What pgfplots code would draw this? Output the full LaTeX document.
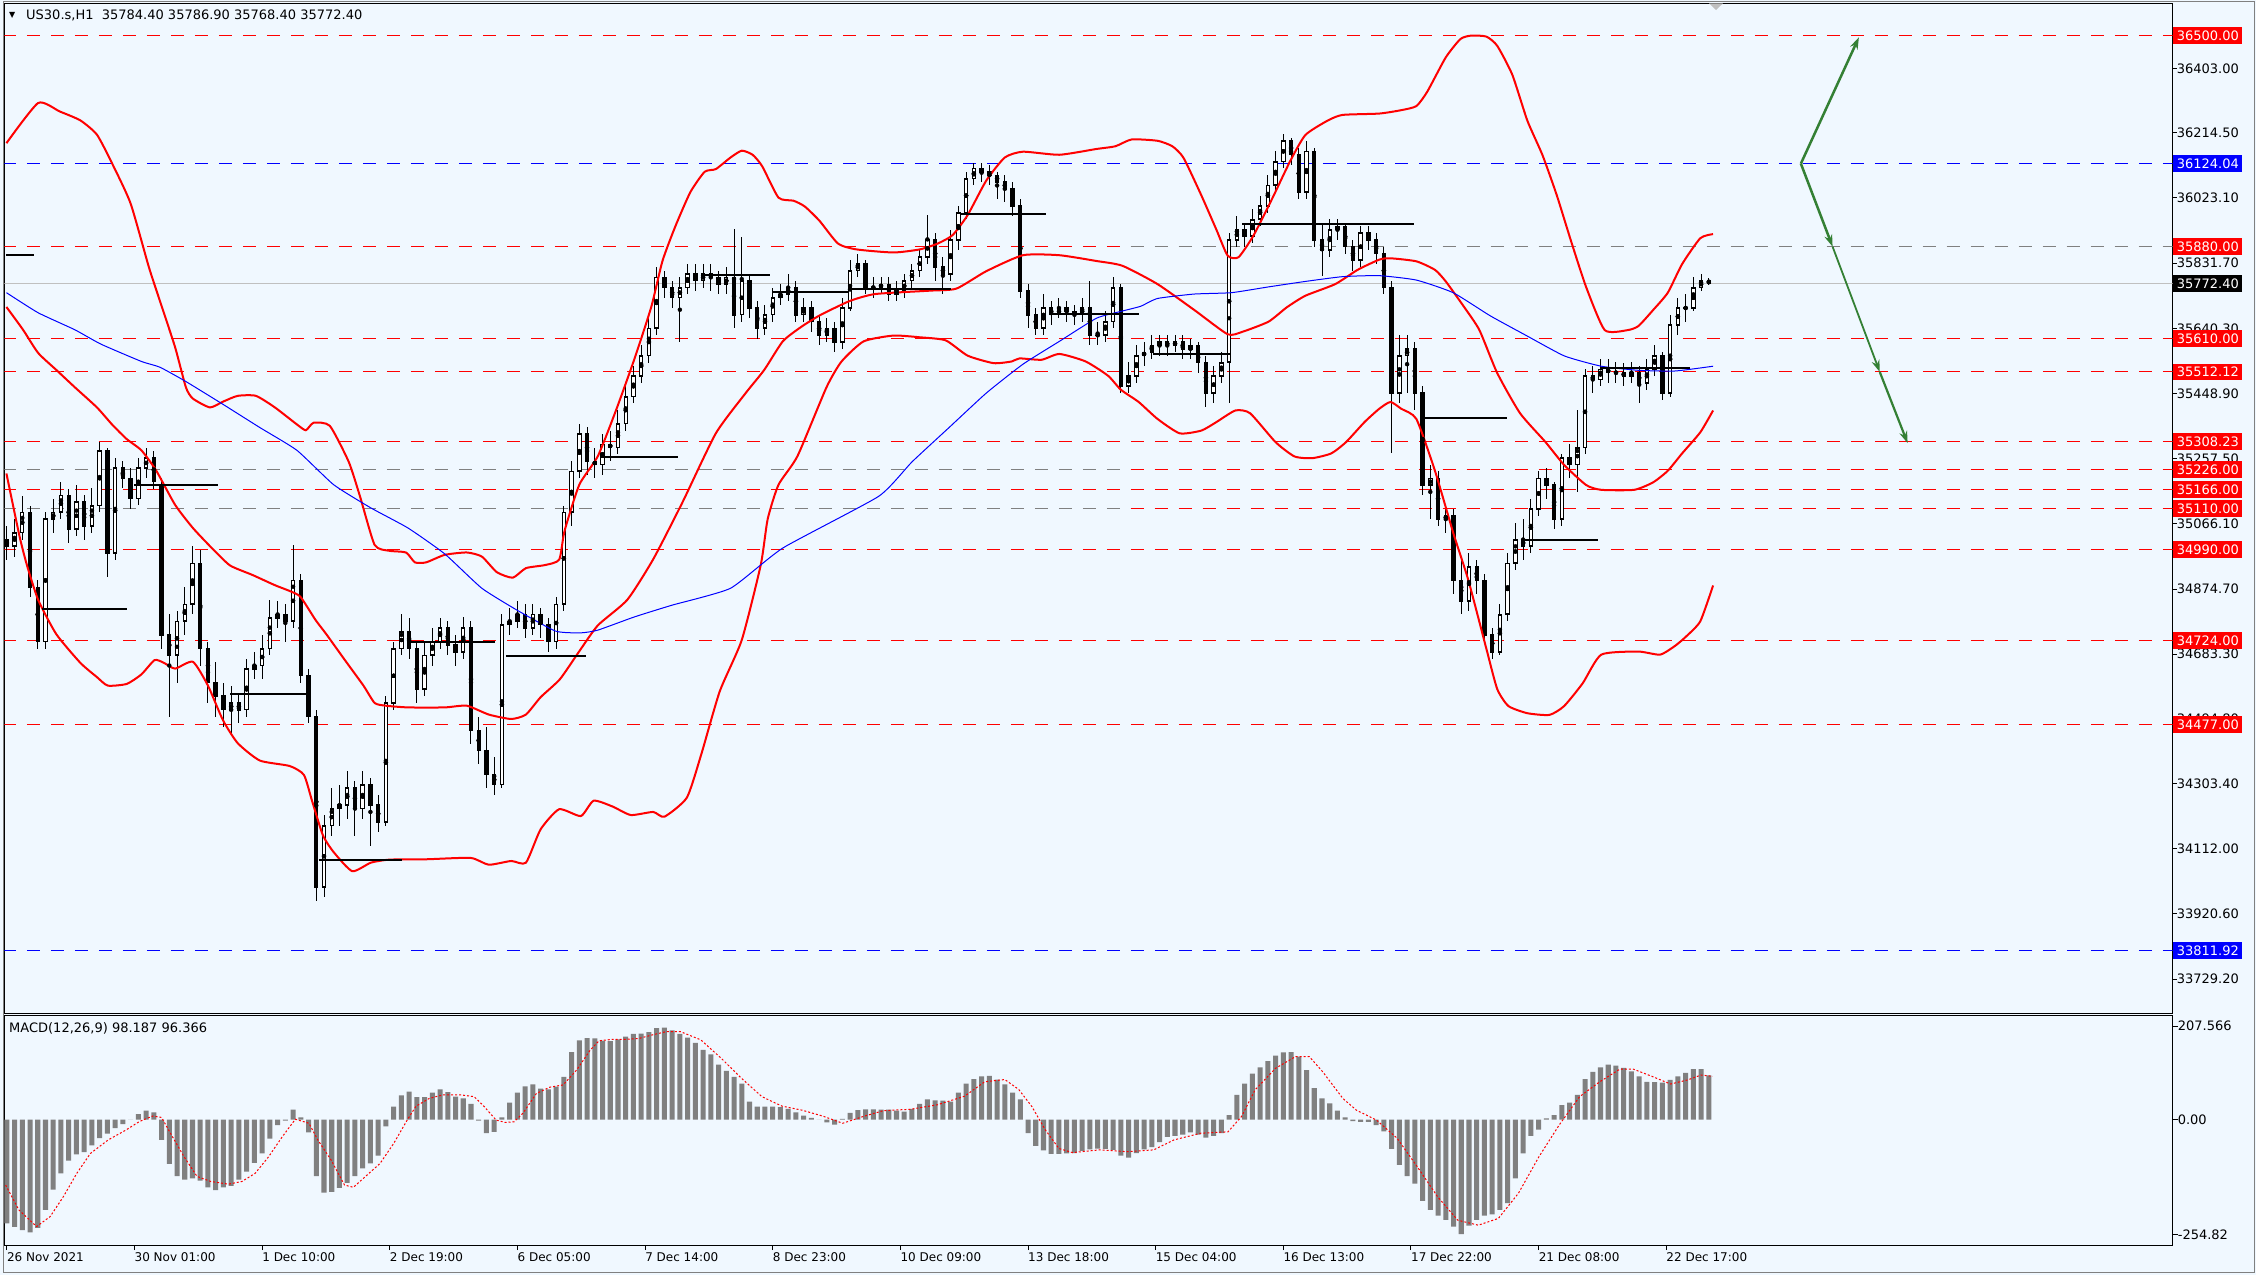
\documentclass[border=0pt]{standalone}
\usepackage{pgfplots}
\pgfplotsset{compat=1.18}
\usepackage{pgfplotstable}
\usepackage{fontspec}
\setmainfont{DejaVu Sans}
\usetikzlibrary{arrows.meta}
\definecolor{bgc}{RGB}{240,248,255}
\definecolor{arrowgreen}{RGB}{52,128,52}
\definecolor{histgray}{RGB}{128,128,128}
\definecolor{lvlgray}{RGB}{128,128,128}
\definecolor{pricegray}{RGB}{192,192,192}
\newcommand\fs{\fontsize{13bp}{15bp}\selectfont}
\newcommand\fsd{\fontsize{12bp}{14bp}\selectfont}
\setlength{\fboxsep}{3.5bp}
\newcommand\lbl[2]{\colorbox{#1}{\textcolor{white}{#2}}}

\pgfplotstableread{
n o h l c
0 35020 35060 34960 35000
2 35000 35080 34970 35040
4 35040 35147 35020 35100
6 35100 35120 34850 34880
8 34880 34900 34700 34720
10 34720 35100 34700 35080
12 35080 35140 35040 35100
14 35100 35190 35080 35150
16 35150 35170 35010 35050
18 35050 35180 35030 35130
20 35130 35150 35020 35060
22 35060 35170 35040 35120
24 35120 35307 35100 35280
26 35280 35290 34911 34980
28 34980 35260 34960 35230
30 35230 35250 35170 35200
32 35200 35230 35110 35140
34 35140 35260 35120 35230
36 35230 35290 35200 35260
38 35260 35280 35170 35190
40 35180 35200 34700 34740
42 34740 34800 34500 34680
44 34680 34810 34600 34780
46 34780 34880 34740 34830
48 34830 35000 34800 34950
50 34950 34990 34650 34700
52 34700 34720 34540 34600
54 34600 34660 34500 34560
56 34560 34600 34470 34520
58 34520 34590 34450 34540
60 34540 34570 34480 34520
62 34520 34670 34500 34640
64 34640 34690 34610 34650
66 34650 34740 34610 34700
68 34700 34843 34680 34790
70 34790 34840 34760 34800
72 34800 34830 34720 34780
74 34780 35003 34760 34900
76 34900 34920 34600 34620
78 34620 34640 34480 34500
80 34500 34520 33958 34000
82 34000 34210 33970 34180
84 34180 34290 34150 34230
86 34230 34300 34180 34240
88 34240 34340 34200 34290
90 34290 34310 34150 34230
92 34230 34340 34200 34300
94 34300 34320 34120 34240
96 34240 34270 34160 34190
98 34190 34560 34180 34540
100 34540 34720 34520 34700
102 34700 34800 34680 34750
104 34750 34790 34670 34700
106 34700 34720 34540 34580
108 34580 34720 34560 34680
110 34680 34760 34650 34720
112 34720 34790 34700 34760
114 34760 34780 34680 34710
116 34710 34740 34650 34690
118 34690 34793 34670 34760
120 34760 34780 34420 34460
122 34460 34500 34360 34400
124 34400 34470 34290 34330
126 34330 34380 34270 34300
128 34300 34800 34290 34770
130 34770 34820 34740 34780
132 34780 34840 34760 34800
134 34800 34830 34730 34760
136 34760 34830 34740 34800
138 34800 34820 34730 34770
140 34770 34790 34690 34720
142 34720 34850 34700 34830
144 34830 35120 34810 35100
146 35100 35250 35060 35220
148 35220 35360 35200 35330
150 35330 35350 35210 35250
152 35250 35290 35200 35240
154 35240 35330 35210 35300
156 35300 35340 35250 35290
158 35290 35400 35270 35360
160 35360 35470 35340 35440
162 35440 35530 35420 35500
164 35500 35590 35480 35560
166 35560 35680 35540 35640
168 35640 35821 35620 35790
170 35790 35810 35730 35760
172 35760 35780 35700 35730
174 35730 35790 35600 35760
176 35760 35830 35740 35800
178 35800 35830 35750 35780
180 35780 35830 35760 35800
182 35800 35830 35750 35790
184 35790 35810 35740 35770
186 35770 35820 35740 35790
188 35790 35931 35640 35680
190 35680 35910 35660 35780
192 35780 35800 35670 35700
194 35700 35720 35610 35640
196 35640 35710 35620 35680
198 35680 35760 35660 35730
200 35730 35770 35710 35740
202 35740 35800 35720 35760
204 35760 35780 35660 35680
206 35680 35730 35660 35700
208 35700 35720 35630 35660
210 35660 35680 35590 35620
212 35620 35670 35600 35640
214 35640 35660 35570 35600
216 35600 35730 35580 35700
218 35700 35840 35690 35810
220 35810 35860 35790 35830
222 35830 35840 35740 35760
224 35760 35790 35730 35760
226 35760 35790 35740 35770
228 35770 35790 35720 35740
230 35740 35780 35720 35750
232 35750 35800 35730 35780
234 35780 35830 35760 35810
236 35810 35870 35790 35850
238 35850 35973 35830 35900
240 35900 35920 35780 35820
242 35820 35850 35740 35800
244 35800 35930 35780 35900
246 35900 36000 35870 35980
248 35980 36100 35960 36080
250 36080 36125 36060 36110
252 36110 36125 36070 36100
254 36100 36120 36060 36090
256 36090 36100 36020 36070
258 36070 36090 36010 36050
260 36050 36070 35970 36000
262 36000 36020 35730 35750
264 35750 35770 35640 35680
266 35680 35700 35620 35640
268 35640 35740 35620 35700
270 35700 35720 35650 35680
272 35680 35730 35670 35700
274 35700 35720 35660 35690
276 35690 35710 35650 35680
278 35680 35730 35660 35700
280 35700 35780 35590 35620
282 35620 35660 35590 35620
284 35620 35690 35600 35660
286 35660 35790 35640 35760
288 35760 35770 35450 35470
290 35470 35540 35450 35500
292 35500 35590 35480 35560
294 35560 35600 35530 35570
296 35570 35620 35550 35590
298 35590 35620 35560 35600
300 35600 35620 35560 35590
302 35590 35620 35570 35600
304 35600 35620 35550 35580
306 35580 35610 35550 35590
308 35590 35600 35510 35540
310 35540 35560 35410 35450
312 35450 35530 35420 35500
314 35500 35570 35480 35540
316 35540 35920 35420 35900
318 35900 35970 35880 35930
320 35930 35950 35880 35910
322 35910 35990 35890 35960
324 35960 36030 35940 36000
326 36000 36090 35980 36060
328 36060 36160 36040 36130
330 36130 36210 36110 36190
332 36190 36200 36120 36150
334 36150 36170 36020 36040
336 36040 36190 36020 36160
338 36160 36170 35880 35900
340 35900 35950 35795 35870
342 35870 35960 35850 35930
344 35930 35960 35900 35940
346 35940 35950 35860 35880
348 35880 35900 35810 35840
350 35840 35940 35820 35920
352 35920 35940 35870 35900
354 35900 35920 35830 35860
356 35860 35880 35740 35760
358 35760 35780 35273 35450
360 35450 35620 35420 35560
362 35560 35620 35450 35580
364 35580 35600 35400 35450
366 35450 35470 35150 35180
368 35180 35240 35080 35200
370 35200 35220 35060 35080
372 35080 35120 35040 35090
374 35090 35110 34860 34900
376 34900 34960 34800 34840
378 34840 34980 34810 34940
380 34940 34960 34860 34900
382 34900 34920 34720 34740
384 34740 34760 34670 34690
386 34690 34830 34680 34800
388 34800 34980 34780 34950
390 34950 35070 34930 35020
392 35020 35080 34960 35000
394 35000 35140 34980 35110
396 35110 35222 35090 35200
398 35200 35230 35140 35180
400 35180 35190 35050 35080
402 35080 35270 35060 35260
404 35260 35300 35200 35240
406 35240 35400 35160 35290
408 35290 35520 35270 35500
410 35500 35530 35450 35490
412 35490 35550 35470 35520
414 35520 35550 35480 35510
416 35510 35540 35480 35510
418 35510 35540 35470 35500
420 35500 35540 35480 35510
422 35510 35530 35420 35480
424 35480 35550 35460 35520
426 35520 35590 35500 35560
428 35560 35570 35430 35450
430 35450 35680 35440 35650
432 35650 35730 35620 35700
434 35700 35740 35660 35700
436 35700 35790 35690 35760
438 35760 35800 35750 35780
440 35780 35787 35768 35772
}\candles

\pgfplotstableread{
n v
0 -230
2 -238
4 -245
6 -250
8 -240
10 -200
12 -155
14 -119
16 -91
18 -77
20 -72
22 -57
24 -41
26 -31
28 -19
30 -10
32 0
34 12
36 20
38 16
40 -45
42 -98
44 -125
46 -133
48 -130
50 -135
52 -150
54 -156
56 -150
58 -147
60 -133
62 -115
64 -96
66 -75
68 -42
70 -12
72 -2
74 22
76 5
78 -28
80 -125
82 -162
84 -160
86 -151
88 -140
90 -125
92 -108
94 -97
96 -80
98 -15
100 29
102 54
104 62
106 50
108 50
110 60
112 67
114 61
116 51
118 47
120 35
122 -2
124 -30
126 -27
128 5
130 38
132 60
134 74
136 78
138 69
140 67
142 73
144 95
146 150
148 176
150 181
152 180
154 175
156 174
158 178
160 184
162 190
164 191
166 194
168 203
170 204
172 198
174 190
176 182
178 170
180 155
182 145
184 122
186 108
188 95
190 80
192 40
194 29
196 29
198 29
200 28
202 24
204 16
206 9
208 4
210 0
212 -6
214 -11
216 2
218 15
220 21
222 23
224 23
226 22
228 22
230 20
232 18
234 24
236 35
238 45
240 43
242 42
244 40
246 60
248 80
250 90
252 96
254 97
256 89
258 78
260 60
262 45
264 -30
266 -58
268 -68
270 -76
272 -76
274 -75
276 -74
278 -69
280 -66
282 -64
284 -65
286 -67
288 -80
290 -84
292 -74
294 -66
296 -61
298 -50
300 -38
302 -36
304 -33
306 -28
308 -33
310 -40
312 -36
314 -30
316 10
318 55
320 80
322 102
324 116
326 130
328 142
330 149
332 150
334 140
336 110
338 70
340 47
342 36
344 20
346 5
348 -3
350 -5
352 -5
354 -12
356 -26
358 -65
360 -100
362 -125
364 -142
366 -180
368 -200
370 -213
372 -222
374 -237
376 -254
378 -235
380 -222
382 -213
384 -210
386 -200
388 -185
390 -130
392 -75
394 -36
396 -22
398 3
400 10
402 32
404 38
406 55
408 90
410 106
412 116
414 122
416 120
418 115
420 107
422 96
424 84
426 83
428 82
430 88
432 96
434 104
436 112
438 112
440 98
}\macdhist

\begin{document}
\begin{tikzpicture}[x=1bp,y=1bp]
\fill[bgc] (0,0) rectangle (2256,-1275);
\useasboundingbox (0,0) rectangle (2256,-1275);
\draw[lvlgray, line width=1bp] (3.3,-1.5) rectangle (2254,-1272);

\begin{axis}[
  at={(4.3bp,-3.3bp)}, anchor=north west,
  scale only axis, width=2168.3bp, height=1009.7bp,
  xmin=-0.65, xmax=559.9, ymin=33629.4, ymax=36594.8,
  axis line style={black, line width=1bp},
  xtick=\empty,
  ytick pos=right, yticklabel pos=right,
  tick align=outside, major tick length=4bp,
  tick style={black, line width=1bp},
  ytick={36403,36214.5,36023.1,35831.7,35640.3,35448.9,35257.5,35066.1,34874.7,34683.3,34494.8,34303.4,34112,33920.6,33729.2},
  yticklabels={36403.00,36214.50,36023.10,35831.70,35640.30,35448.90,35257.50,35066.10,34874.70,34683.30,34494.80,34303.40,34112.00,33920.60,33729.20},
  yticklabel style={anchor=west, inner sep=0pt, font=\fs, text=black},
  extra y ticks={36500,35880,35610,35512.12,35308.23,35226,35166,35110,34990,34724,34477,36124.04,33811.92,35772.4},
  extra y tick labels={\lbl{red}{36500.00},\lbl{red}{35880.00},\lbl{red}{35610.00},\lbl{red}{35512.12},\lbl{red}{35308.23},\lbl{red}{35226.00},\lbl{red}{35166.00},\lbl{red}{35110.00},\lbl{red}{34990.00},\lbl{red}{34724.00},\lbl{red}{34477.00},\lbl{blue}{36124.04},\lbl{blue}{33811.92},\lbl{black}{35772.40}},
  extra y tick style={yticklabel style={xshift=-3.5bp}},
]
% level lines
\addplot[red, line width=1bp, dash pattern=on 13bp off 11bp] coordinates {(-1,36500) (561,36500)};
\addplot[blue, line width=1bp, dash pattern=on 13bp off 11bp] coordinates {(-1,36124.04) (561,36124.04)};
\addplot[red, line width=1bp, dash pattern=on 13bp off 11bp] coordinates {(-1,35880) (290.5,35880)};
\addplot[lvlgray, line width=1bp, dash pattern=on 13bp off 11bp] coordinates {(290.5,35880) (561,35880)};
\addplot[pricegray, line width=1bp] coordinates {(-1,35772.4) (561,35772.4)};
\addplot[red, line width=1bp, dash pattern=on 13bp off 11bp] coordinates {(-1,35610) (561,35610)};
\addplot[red, line width=1bp, dash pattern=on 13bp off 11bp] coordinates {(-1,35512.12) (561,35512.12)};
\addplot[red, line width=1bp, dash pattern=on 13bp off 11bp] coordinates {(-1,35308.23) (561,35308.23)};
\addplot[lvlgray, line width=1bp, dash pattern=on 13bp off 11bp] coordinates {(-1,35226) (290.5,35226)};
\addplot[red, line width=1bp, dash pattern=on 13bp off 11bp] coordinates {(290.5,35226) (561,35226)};
\addplot[red, line width=1bp, dash pattern=on 13bp off 11bp] coordinates {(-1,35166) (561,35166)};
\addplot[lvlgray, line width=1bp, dash pattern=on 13bp off 11bp] coordinates {(-1,35110) (290.5,35110)};
\addplot[red, line width=1bp, dash pattern=on 13bp off 11bp] coordinates {(290.5,35110) (561,35110)};
\addplot[red, line width=1bp, dash pattern=on 13bp off 11bp] coordinates {(-1,34990) (561,34990)};
\addplot[red, line width=1bp, dash pattern=on 13bp off 11bp] coordinates {(-1,34724) (561,34724)};
\addplot[red, line width=1bp, dash pattern=on 13bp off 11bp] coordinates {(-1,34477) (561,34477)};
\addplot[blue, line width=1bp, dash pattern=on 13bp off 11bp] coordinates {(-1,33811.92) (561,33811.92)};

% candles: wicks
\addplot[only marks, mark=none, error bars/.cd, y dir=both, y explicit, error mark=none,
  error bar style={line width=1bp, draw=black}]
  table[x=n, y expr={(\thisrow{h}+\thisrow{l})/2}, y error expr={(\thisrow{h}-\thisrow{l})/2}] {\candles};
% candles: bodies
\addplot[only marks, mark=none, error bars/.cd, y dir=both, y explicit, error mark=none,
  error bar style={line width=4.4bp, draw=black}]
  table[x=n, y expr={(\thisrow{o}+\thisrow{c})/2}, y error expr={abs(\thisrow{c}-\thisrow{o})/2+2}] {\candles};
% bullish bodies hollow
\addplot[only marks, mark=none, error bars/.cd, y dir=both, y explicit, error mark=none,
  error bar style={line width=2.4bp, draw=white}]
  table[x=n, y expr={(\thisrow{o}+\thisrow{c})/2}, y error expr={max((\thisrow{c}-\thisrow{o})/2-3,0)}] {\candles};

% Bollinger upper
\addplot[red, line width=2bp, smooth, tension=0.35] coordinates {
(-0.1,36184) (8.1,36302) (13.7,36277) (19,36251) (23.3,36209) (27.2,36125) (32,36007) (36.7,35821) (39.6,35720) (43.5,35585) (46.3,35467) (48.1,35434) (52.5,35408) (55.9,35425) (59.7,35442) (64.4,35442) (69.3,35408) (75,35358) (77.3,35341) (79.3,35363) (83.5,35354) (88.4,35248) (91.3,35147) (95.1,35004) (98.9,34987) (103.2,34982) (105.5,34953) (108.4,34953) (113.2,34975) (118.9,34982) (122.8,34970) (126.7,34924) (130.8,34908) (134.2,34936) (139.1,34945) (142.8,34961) (144.2,35046) (148,35181) (152.8,35265) (157.5,35400) (162.3,35552) (166.6,35703) (169.5,35838) (172.8,35939) (176.7,36040) (180.4,36100) (183.3,36108) (187.1,36142) (190,36162) (192.8,36150) (195.3,36116) (199.5,36024) (203.4,36015) (206.3,35998) (210.1,35956) (214.9,35889) (219.7,35872) (229.2,35863) (236,35872) (240.6,35889) (244.5,35914) (248.4,35973) (253.2,36074) (258,36142) (262.7,36159) (272.1,36150) (281.7,36167) (286.6,36175) (290.8,36195) (297.5,36191) (301.3,36175) (304.2,36141) (308.8,36031) (312.7,35930) (315.6,35854) (318.4,35849) (322.3,35913) (327.2,36023) (331.8,36132) (335.7,36208) (341.4,36250) (345.3,36267) (354.8,36271) (360.5,36281) (364.4,36293) (367.2,36335) (372,36436) (375.8,36490) (378.6,36500) (382.5,36497) (385.3,36470) (389.2,36385) (393.1,36250) (397,36149) (400.7,36031) (404.4,35896) (408.3,35761) (413.1,35635) (419,35635) (421.8,35647) (425.6,35694) (429.4,35745) (433.1,35829) (437.8,35905) (441.1,35917)};
% Bollinger middle
\addplot[red, line width=2bp, smooth, tension=0.35] coordinates {
(-0.1,35703) (4.2,35636) (8.1,35568) (12.8,35518) (17.6,35467) (23.3,35408) (27.2,35358) (31,35315) (34.8,35282) (38.6,35223) (43.5,35122) (48.1,35054) (53,34995) (57.7,34944) (63.5,34916) (69.3,34886) (73.1,34869) (75.9,34852) (79.8,34784) (82.6,34742) (87.4,34666) (92.2,34591) (95.1,34540) (98,34532) (103.7,34527) (113.2,34527) (118.9,34532) (124.6,34506) (130.4,34493) (134.2,34506) (138,34557) (143,34610) (148,34692) (152.8,34768) (160.4,34843) (167.1,34962) (174.7,35130) (183.3,35332) (191,35450) (195.8,35518) (200.6,35602) (205.3,35644) (210.1,35678) (217.8,35720) (224.5,35741) (238.8,35751) (245.5,35757) (253.2,35808) (262.7,35855) (272.1,35855) (281.7,35838) (288.4,35824) (297.5,35770) (307,35694) (315.6,35623) (319.4,35630) (326.2,35660) (330.9,35702) (335.7,35736) (343.4,35770) (349.2,35812) (354.8,35842) (357.7,35846) (364.4,35837) (369.2,35812) (372,35778) (376.8,35702) (380.7,35635) (385.3,35509) (391.2,35391) (397.8,35306) (402.6,35239) (408.3,35180) (412.2,35166) (420.7,35166) (425.6,35188) (429.4,35222) (433.1,35273) (437.8,35335) (441.1,35399)};
% Bollinger lower
\addplot[red, line width=2bp, smooth, tension=0.35] coordinates {
(-0.1,35214) (3.3,35029) (5.2,34945) (8.1,34843) (12.8,34742) (19,34658) (23.3,34616) (26.1,34591) (31,34596) (34.8,34624) (38.2,34666) (40.6,34658) (43.5,34641) (48.1,34661) (52,34591) (55.9,34489) (59.7,34422) (65.4,34371) (73.1,34355) (76.8,34329) (78.9,34253) (81.7,34152) (84.5,34102) (89.3,34046) (94.1,34071) (98.9,34080) (108.4,34081) (119.9,34085) (124.6,34065) (130.4,34076) (134.2,34071) (138,34169) (142.8,34228) (148.4,34208) (151.7,34253) (156.6,34236) (161.3,34211) (167.1,34220) (170,34206) (175.8,34262) (179.5,34388) (184.3,34574) (190,34725) (194.9,34945) (196.7,35080) (199.5,35181) (204.4,35265) (211.9,35467) (215.8,35543) (221.5,35602) (229.2,35619) (236,35614) (242.7,35605) (248.4,35560) (255.1,35538) (259.8,35543) (261.8,35552) (267.5,35548) (272.1,35565) (278.9,35543) (284.7,35501) (288,35460) (292.6,35424) (297.5,35374) (303.2,35332) (308.8,35340) (312.7,35365) (317.6,35399) (321.4,35391) (328,35306) (332.9,35264) (337.5,35259) (342.4,35273) (346.2,35306) (351,35365) (354.8,35404) (357.7,35424) (360.5,35404) (364.4,35374) (369.2,35222) (374,35037) (377.8,34902) (382.5,34699) (385.3,34581) (388.2,34531) (393.1,34510) (398.8,34505) (402.6,34531) (407.4,34598) (412.2,34682) (421.8,34691) (427.4,34682) (431.3,34708) (434.2,34736) (437.8,34780) (441.1,34885)};
% moving average
\addplot[blue, line width=1bp, smooth, tension=0.3] coordinates {
(-0.1,35745) (8.1,35686) (17.6,35636) (24.3,35594) (34.8,35543) (39.6,35526) (46.3,35484) (55.9,35417) (65.4,35349) (75,35282) (84.5,35181) (94.1,35113) (103.7,35054) (113.2,34978) (122.8,34877) (132.3,34810) (141.9,34751) (148.4,34746) (152.8,34754) (162.3,34793) (171.9,34827) (187.1,34877) (200.6,34995) (225.4,35147) (234,35248) (243.6,35349) (253.2,35450) (262.7,35535) (272.1,35602) (281.7,35670) (288,35690) (293.1,35705) (297.5,35728) (307,35741) (316.6,35745) (326.2,35762) (335.7,35778) (345.3,35792) (354.8,35795) (364.4,35782) (373.9,35745) (383.5,35677) (393,35618) (402.7,35559) (412.2,35529) (421.8,35517) (431.3,35515) (441.1,35529)};

% black level segments
\addplot[black, line width=2bp] coordinates {(-0.1,35856) (7.0,35856)};
\addplot[black, line width=2bp] coordinates {(9.0,34815) (31.0,34815)};
\addplot[black, line width=2bp] coordinates {(32.9,35179) (54.7,35179)};
\addplot[black, line width=2bp] coordinates {(57.7,34565) (78.6,34565)};
\addplot[black, line width=2bp] coordinates {(80.7,34080) (102.1,34080)};
\addplot[black, line width=2bp] coordinates {(104.6,34720) (126.1,34720)};
\addplot[black, line width=2bp] coordinates {(129,34678) (149.7,34678)};
\addplot[black, line width=2bp] coordinates {(153.7,35263) (173.6,35263)};
\addplot[black, line width=2bp] coordinates {(179.5,35798) (197.4,35798)};
\addplot[black, line width=2bp] coordinates {(198.2,35747) (217.8,35747)};
\addplot[black, line width=2bp] coordinates {(217.9,35755) (244,35755)};
\addplot[black, line width=2bp] coordinates {(246.5,35977) (268.6,35977)};
\addplot[black, line width=2bp] coordinates {(270.3,35681) (292.6,35681)};
\addplot[black, line width=2bp] coordinates {(296.4,35566) (316.1,35566)};
\addplot[black, line width=2bp] coordinates {(319.4,35947) (363.9,35947)};
\addplot[black, line width=2bp] coordinates {(365.8,35377) (387.7,35377)};
\addplot[black, line width=2bp] coordinates {(391.5,35018) (411.4,35018)};
\addplot[black, line width=2bp] coordinates {(412.2,35525) (435.2,35525)};

% forecast arrows
\addplot[arrowgreen, line width=2.5bp, -{Stealth[length=12bp,width=8bp]}] coordinates {(463.8,36124) (478.8,36495)};
\addplot[arrowgreen, line width=2.5bp, -{Stealth[length=12bp,width=8bp]}] coordinates {(463.8,36124) (472.0,35880)};
\addplot[arrowgreen, line width=1.8bp, -{Stealth[length=12bp,width=8bp]}] coordinates {(472.0,35880) (484.2,35512)};
\addplot[arrowgreen, line width=2.2bp, -{Stealth[length=12bp,width=8bp]}] coordinates {(484.2,35512) (491.4,35303)};
\end{axis}

\begin{axis}[
  at={(4.3bp,-1015bp)}, anchor=north west,
  scale only axis, width=2168.3bp, height=230bp,
  xmin=-0.65, xmax=559.9, ymin=-278, ymax=232,
  axis line style={black, line width=1bp},
  tick align=outside, major tick length=5bp,
  tick style={black, line width=1bp},
  xtick pos=bottom, ytick pos=right, yticklabel pos=right,
  xtick={0,33,66,99,132,165,198,231,264,297,330,363,396,429},
  xticklabels={26 Nov 2021,30 Nov 01:00,1 Dec 10:00,2 Dec 19:00,6 Dec 05:00,7 Dec 14:00,8 Dec 23:00,10 Dec 09:00,13 Dec 18:00,15 Dec 04:00,16 Dec 13:00,17 Dec 22:00,21 Dec 08:00,22 Dec 17:00},
  xticklabel style={anchor=north west, inner sep=0pt, font=\fsd, text=black, yshift=-2bp},
  ytick={207.566,0,-254.82},
  yticklabels={207.566,0.00,-254.82},
  yticklabel style={anchor=west, inner sep=0pt, font=\fs, text=black},
]
\addplot[ybar, bar width=1.3, fill=histgray, draw=none] table[x=n, y=v] {\macdhist};
\addplot[red, line width=1bp, dash pattern=on 2bp off 2bp] coordinates {
(-0.3,-145) (3.1,-200) (7.7,-237) (11.2,-215) (14.6,-171) (18.1,-119) (21.6,-75) (26.2,-45) (30.8,-23) (34.3,-4) (37.7,8) (40,5) (42.3,-30) (45.8,-82) (49.2,-126) (52.7,-137) (57.3,-143) (60.8,-137) (64.2,-119) (67.7,-82) (71.2,-38) (74.6,1) (78.1,-8) (80.4,-45) (83.8,-89) (87.3,-145) (89.6,-150) (93.1,-123) (96.5,-97) (100,-53) (103.5,-1) (105.8,30) (109.2,47) (112.7,55) (117.3,55) (120.8,51) (123.1,32) (126.5,-1) (128.8,-6) (131.1,-5) (133.4,14) (136.9,58) (140.4,72) (143.8,77) (147.3,110) (150.8,154) (153.1,175) (156.5,178) (160,178) (163.4,180) (166.9,188) (170.4,195) (174.2,195) (179.4,177) (184.7,136) (189.9,92) (195.2,51) (200.4,30) (205.6,21) (210.9,8) (216.1,-8) (221.4,7) (226.6,20) (233.6,23) (240.6,33) (247.6,52) (252.8,84) (258,89) (261.6,67) (265,29) (268.5,-23) (272,-64) (275.5,-73) (282.5,-67) (289.5,-71) (296.5,-67) (301.7,-45) (308.7,-30) (315.7,-27) (319.2,7) (322.7,66) (328,114) (333.2,140) (336.7,140) (340.2,106) (345.4,47) (348.9,21) (354.1,-1) (359.4,-41) (364.6,-104) (369.9,-171) (375.1,-223) (380.4,-234) (385.6,-219) (390.8,-163) (396.1,-82) (401.3,-12) (406.6,51) (411.8,84) (417,112) (420.5,112) (425.6,95) (430.1,79) (434.5,88) (438,99) (441,96)};
\end{axis}

\node[anchor=west, inner sep=0pt, font=\fontsize{8bp}{8bp}\selectfont] at (9,-15) {▼};
\node[anchor=west, inner sep=0pt, font=\fs] at (26,-15) {US30.s,H1\ \ 35784.40 35786.90 35768.40 35772.40};
\node[anchor=west, inner sep=0pt, font=\fs] at (9,-1028) {MACD(12,26,9) 98.187 96.366};
\fill[gray!50] (1709,-3.3) -- (1723,-3.3) -- (1716,-10) -- cycle;
\end{tikzpicture}
\end{document}
